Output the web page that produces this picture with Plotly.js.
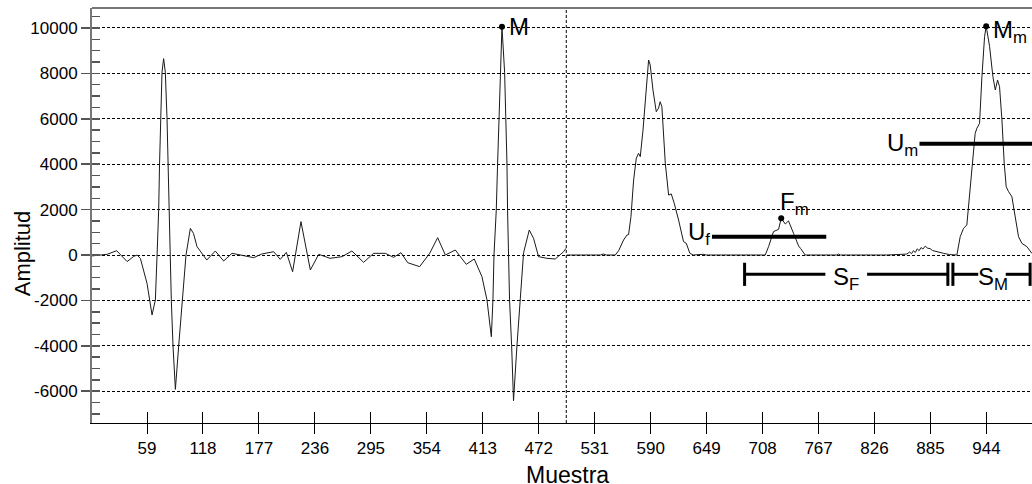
<!DOCTYPE html>
<html>
<head>
<meta charset="utf-8">
<script src="https://cdn.plot.ly/plotly-3.0.1.min.js"></script>
<style>html,body{margin:0;padding:0;background:#fff;}#chart{width:1032px;height:484px;}</style>
</head>
<body>
<div id="chart"></div>
<script>
// ECG segment (samples 0-500)
const ecgX = [1,10,17,27,38,45,48.5,52,59,64.3,67.8,69.6,71.3,72.2,73.4,74.8,76.5,78.3,80.1,81.1,82.5,84.6,86.4,88.9,92.4,96.2,100.1,104.7,108,111.7,117,122,131,139.8,148.6,157.4,171.4,180,192.5,199.5,205.9,212.5,221.3,231.2,240,252,264.6,275,287.3,297.9,310.2,319,326.8,333.8,346.4,357,365.4,373.5,384,395.6,404,412.1,417.4,422,423.7,424.8,427.2,428.6,430,431.4,433.2,436,437.4,438.5,439.1,441.2,443.4,445.4,449,452.5,456,462,466.5,471.8,480.6,489.4,498.2,500.7];
const ecgY = [-40,0,30,190,-290,-60,0,-150,-1250,-2640,-1980,0,1980,4000,6020,8050,8650,8050,6020,4000,1980,-1980,-4000,-5920,-4000,-1980,0,1175,950,370,75,-220,176,-264,75,0,-117,44,146,-190,117,-735,1470,-660,30,-146,-73,176,-323,73,73,-103,103,-338,-514,73,763,0,220,-411,-176,-955,-1980,-3600,-1980,0,1980,4000,6020,8050,10050,8050,6020,4000,1980,-1980,-4000,-6420,-4000,-1980,100,1100,735,-73,-146,-176,146,295];

// Envelope segment (samples 500-1000)
const envX = [501.5,537,540,543,552.7,556.2,561.4,565,566.7,569.2,572,574.8,577.2,579,581.9,585.4,587.8,589.5,592.4,595.9,598.2,600,601.8,605.4,608.9,611.7,614.8,619.4,624.6,627.5,631.3,634.8,645.3,648.8,698.5,703.7,710.8,714.3,719.5,724.8,727.6,731.9,735.3,740.6,745.9,748,751,752.9,786.3,788,790,839,860,863,865,867,869,871,873,875,877,879.4,882,884.6,887,891.7,895,898.7,905,912.8,916.3,919.8,923.3,926.1,929.7,932.1,933.9,936.7,939.2,942,943.7,947.3,950.8,953.3,955.7,957.8,960.3,962.7,964.8,967.3,970.8,974.3,977.8,981.3,986.6,991.9,995];
const envY = [0,0,44,0,0,190,660,880,900,1690,3300,4260,4480,4330,5500,7270,8590,8370,7270,6310,6460,6750,6530,4040,2640,2690,2280,1540,590,515,73,0,30,0,0,30,0,370,1030,1130,1615,1365,1500,955,400,290,73,0,0,40,0,0,40,130,60,190,110,270,190,330,260,390,300,280,200,146,90,73,20,0,807,1175,1320,2570,4185,5360,5580,5800,7850,9620,10080,9180,7850,7270,7710,7410,5950,4040,3010,2790,2570,1690,807,515,367,73,0];

// Marked maxima
const peakLabels = ["M", "F<sub>m</sub>", "M<sub>m</sub>"];
const peakX = [433.2, 727.6, 943.7];
const peakY = [10050, 1615, 10080];

// Thresholds
const ufLevel = 800, ufStart = 654.6, ufEnd = 775.1;
const umLevel = 4900, umStart = 873.4, umEnd = 1000;

// Segments S_F and S_M
const sfRange = [689, 903.3];
const smRange = [908.6, 990];
const segLevel = -850;

const dividerX = 501;

// Axis ticks
const xTickStep = 59;
const yTickVals = [-6000, -4000, -2000, 0, 2000, 4000, 6000, 8000, 10000];
const yTickText = ["-6000", "-4000", "-2000", "0", "2000", "4000", "6000", "8000", "10000"];
const xRange = [1, 992];
const yRange = [-7400, 10880];

const FONT = "Liberation Sans, Arial, sans-serif";
const dash = "3px,2px";

const traces = [
  {x: ecgX, y: ecgY, type: "scatter", mode: "lines", line: {color: "#1a1a1a", width: 1}, hoverinfo: "skip"},
  {x: envX, y: envY, type: "scatter", mode: "lines", line: {color: "#1a1a1a", width: 1}, hoverinfo: "skip"},
  {x: peakX, y: peakY, type: "scatter", mode: "markers", marker: {color: "#000", size: 6}, hoverinfo: "skip"},
  {x: [null], y: [null], xaxis: "x2", yaxis: "y2", type: "scatter", mode: "lines", hoverinfo: "skip"}
];

const shapes = [];
function seg(x0, y0, x1, y1, w) {
  shapes.push({type: "line", xref: "x", yref: "y", x0: x0, y0: y0, x1: x1, y1: y1, line: {color: "#000", width: w}});
}
// divider
shapes.push({type: "line", xref: "x", yref: "paper", x0: dividerX, x1: dividerX, y0: 0, y1: 1, line: {color: "#000", width: 1, dash: dash}});
// top frame
shapes.push({type: "line", xref: "paper", yref: "paper", x0: 0, x1: 1, y0: 1, y1: 1, line: {color: "#777", width: 2}});
// thresholds
seg(ufStart, ufLevel, ufEnd, ufLevel, 4);
seg(umStart, umLevel, umEnd, umLevel, 4);
// S_F bracket
const capH = 510;
const sfMid = (sfRange[0] + sfRange[1]) / 2;
seg(sfRange[0], segLevel, sfMid - 22, segLevel, 3);
seg(sfMid + 22, segLevel, sfRange[1], segLevel, 3);
seg(sfRange[0], segLevel - capH, sfRange[0], segLevel + capH, 3);
seg(sfRange[1], segLevel - capH, sfRange[1], segLevel + capH, 3);
// S_M bracket
const smMid = (smRange[0] + smRange[1]) / 2;
seg(smRange[0], segLevel, smMid - 14, segLevel, 3);
seg(smMid + 15, segLevel, smRange[1], segLevel, 3);
seg(smRange[0], segLevel - capH, smRange[0], segLevel + capH, 3);
seg(smRange[1], segLevel - capH, smRange[1], segLevel + capH, 3);

const af = {family: FONT, size: 24, color: "#000"};
const annotations = [
  {x: peakX[0], y: peakY[0], text: peakLabels[0], showarrow: false, xanchor: "left", yanchor: "middle", xshift: 5, yshift: 0, font: af},
  {x: peakX[1], y: peakY[1], text: peakLabels[1], showarrow: false, xanchor: "left", yanchor: "bottom", xshift: -3, yshift: -3, font: af},
  {x: peakX[2], y: peakY[2], text: peakLabels[2], showarrow: false, xanchor: "left", yanchor: "middle", xshift: 5, yshift: -5, font: af},
  {x: ufStart, y: ufLevel, text: "U<sub>f</sub>", showarrow: false, xanchor: "right", yanchor: "middle", xshift: 0, yshift: 3, font: af},
  {x: umStart, y: umLevel, text: "U<sub>m</sub>", showarrow: false, xanchor: "right", yanchor: "middle", xshift: 0, yshift: -1, font: af},
  {x: sfMid, y: segLevel, text: "S<sub>F</sub>", showarrow: false, xanchor: "center", yanchor: "middle", xshift: 0, yshift: -4, font: af},
  {x: smMid, y: segLevel, text: "S<sub>M</sub>", showarrow: false, xanchor: "center", yanchor: "middle", xshift: 1, yshift: -4, font: af},
  {xref: "paper", yref: "paper", x: 0.506, y: -0.126, text: "Muestra", showarrow: false, xanchor: "center", yanchor: "middle", borderpad: 0, font: {family: FONT, size: 23, color: "#000"}},
  {xref: "paper", yref: "paper", x: -0.074, y: 0.41, text: "Amplitud", textangle: -90, showarrow: false, xanchor: "center", yanchor: "middle", font: {family: FONT, size: 22, color: "#000"}}
];

const layout = {
  width: 1032, height: 484,
  margin: {l: 92, r: 0, t: 8, b: 61, pad: 0},
  paper_bgcolor: "#fff", plot_bgcolor: "#fff",
  showlegend: false,
  font: {family: FONT, size: 17, color: "#000"},
  xaxis: {range: xRange, tick0: 0, dtick: xTickStep, ticks: "outside", ticklen: 10, tickwidth: 1, tickcolor: "#000",
          showline: true, linecolor: "#000", linewidth: 1, showgrid: false, zeroline: false,
          tickfont: {family: FONT, size: 17, color: "#000"}},
  yaxis: {range: yRange, tickmode: "array", tickvals: yTickVals, ticktext: yTickText, ticks: "outside", ticklen: 9, tickwidth: 1.5, tickcolor: "#555",
          showline: true, linecolor: "#777", linewidth: 2, showgrid: true, gridcolor: "#000", gridwidth: 1, griddash: dash,
          zeroline: false, tickfont: {family: FONT, size: 17, color: "#000"}},
  xaxis2: {overlaying: "x", range: xRange, tick0: 0, dtick: xTickStep, ticks: "inside", ticklen: 11, tickwidth: 1, tickcolor: "#000",
           showticklabels: false, showline: false, showgrid: false, zeroline: false},
  yaxis2: {overlaying: "y", range: yRange, tick0: 0, dtick: 500, ticks: "inside", ticklen: 8, tickwidth: 1.5, tickcolor: "#555",
           showticklabels: false, showline: false, showgrid: false, zeroline: false},
  shapes: shapes,
  annotations: annotations
};

Plotly.newPlot("chart", traces, layout, {staticPlot: true, displayModeBar: false});
</script>
</body>
</html>
